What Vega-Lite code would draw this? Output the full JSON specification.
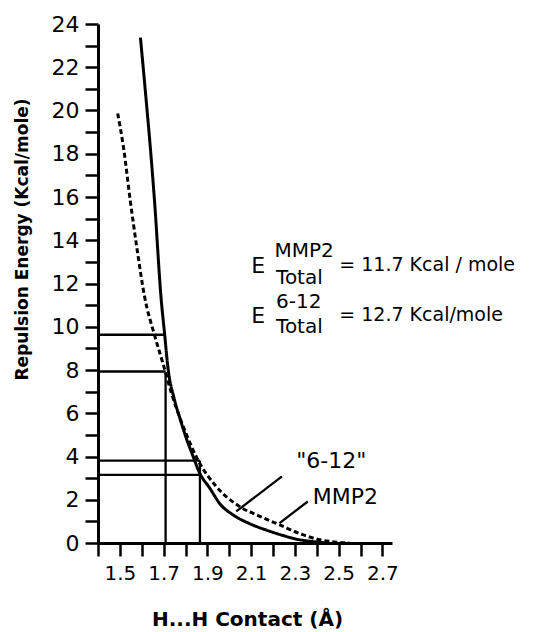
{
  "$schema": "https://vega.github.io/schema/vega-lite/v6.json",
  "width": 294,
  "height": 519,
  "autosize": {"type": "none"},
  "padding": {"left": 98, "top": 24, "right": 144, "bottom": 89},
  "background": "white",
  "config": {
    "view": {"stroke": null},
    "font": "DejaVu Sans",
    "axis": {
      "grid": false,
      "domainColor": "black",
      "domainWidth": 3,
      "tickColor": "black",
      "tickWidth": 2.5,
      "tickSize": 13,
      "labelColor": "black",
      "labelFont": "DejaVu Sans",
      "titleColor": "black",
      "titleFont": "DejaVu Sans",
      "titleFontWeight": "bold"
    }
  },
  "encoding": {
    "x": {
      "field": "x", "type": "quantitative",
      "scale": {"domain": [1.4, 2.744], "nice": false, "zero": false},
      "axis": {
        "values": [1.4, 1.5, 1.6, 1.7, 1.8, 1.9, 2.0, 2.1, 2.2, 2.3, 2.4, 2.5, 2.6, 2.7],
        "format": ".1f",
        "labelExpr": "indexof(['1.5','1.7','1.9','2.1','2.3','2.5','2.7'], datum.label) >= 0 ? datum.label : ''",
        "labelFontSize": 20,
        "labelPadding": 7,
        "labelFlush": false,
        "labelOverlap": false,
        "title": "H...H Contact (Å)",
        "titleFontSize": 20,
        "titleX": 149,
        "titleY": 76,
        "titleAlign": "center",
        "titleBaseline": "middle"
      }
    },
    "y": {
      "field": "y", "type": "quantitative",
      "scale": {"domain": [0, 24], "nice": false},
      "axis": {
        "values": [0, 1, 2, 3, 4, 5, 6, 7, 8, 9, 10, 11, 12, 13, 14, 15, 16, 17, 18, 19, 20, 21, 22, 23, 24],
        "labelExpr": "datum.value % 2 == 0 ? datum.label : ''",
        "labelFontSize": 22,
        "labelPadding": 6,
        "labelFlush": false,
        "labelOverlap": false,
        "title": "Repulsion Energy (Kcal/mole)",
        "titleFontSize": 17,
        "titleAngle": 270,
        "titleX": -76,
        "titleY": 215,
        "titleAlign": "center",
        "titleBaseline": "middle"
      }
    }
  },
  "layer": [
    {
      "data": {"values": [
        {"x": 1.594, "y": 23.37, "s": "solid"},
        {"x": 1.620, "y": 20.50, "s": "solid"},
        {"x": 1.640, "y": 18.19, "s": "solid"},
        {"x": 1.658, "y": 15.87, "s": "solid"},
        {"x": 1.689, "y": 11.25, "s": "solid"},
        {"x": 1.704, "y": 9.72, "s": "solid"},
        {"x": 1.719, "y": 8.17, "s": "solid"},
        {"x": 1.750, "y": 6.61, "s": "solid"},
        {"x": 1.774, "y": 5.78, "s": "solid"},
        {"x": 1.800, "y": 4.95, "s": "solid"},
        {"x": 1.833, "y": 4.05, "s": "solid"},
        {"x": 1.864, "y": 3.25, "s": "solid"},
        {"x": 1.910, "y": 2.55, "s": "solid"},
        {"x": 1.960, "y": 1.78, "s": "solid"},
        {"x": 2.016, "y": 1.31, "s": "solid"},
        {"x": 2.092, "y": 0.90, "s": "solid"},
        {"x": 2.169, "y": 0.60, "s": "solid"},
        {"x": 2.245, "y": 0.35, "s": "solid"},
        {"x": 2.306, "y": 0.18, "s": "solid"},
        {"x": 2.397, "y": 0.05, "s": "solid"},
        {"x": 2.458, "y": 0.0, "s": "solid"},
        {"x": 1.490, "y": 19.86, "s": "dashed"},
        {"x": 1.518, "y": 18.19, "s": "dashed"},
        {"x": 1.547, "y": 15.87, "s": "dashed"},
        {"x": 1.579, "y": 13.56, "s": "dashed"},
        {"x": 1.613, "y": 11.39, "s": "dashed"},
        {"x": 1.658, "y": 9.63, "s": "dashed"},
        {"x": 1.696, "y": 8.34, "s": "dashed"},
        {"x": 1.735, "y": 6.95, "s": "dashed"},
        {"x": 1.774, "y": 5.80, "s": "dashed"},
        {"x": 1.803, "y": 5.05, "s": "dashed"},
        {"x": 1.856, "y": 3.85, "s": "dashed"},
        {"x": 1.940, "y": 2.62, "s": "dashed"},
        {"x": 2.047, "y": 1.69, "s": "dashed"},
        {"x": 2.140, "y": 1.23, "s": "dashed"},
        {"x": 2.230, "y": 0.84, "s": "dashed"},
        {"x": 2.323, "y": 0.43, "s": "dashed"},
        {"x": 2.414, "y": 0.15, "s": "dashed"},
        {"x": 2.489, "y": 0.04, "s": "dashed"},
        {"x": 2.550, "y": 0.0, "s": "dashed"}
      ]},
      "mark": {"type": "line", "color": "black", "strokeWidth": 3, "interpolate": "monotone", "clip": false},
      "encoding": {
        "detail": {"field": "s"},
        "strokeDash": {
          "field": "s", "type": "nominal",
          "scale": {"domain": ["solid", "dashed"], "range": [[1, 0], [5, 3]]},
          "legend": null
        }
      }
    },
    {
      "data": {"values": [
        {"x": 1.4, "x2": 1.706, "y": 9.63, "y2": 9.63},
        {"x": 1.4, "x2": 1.709, "y": 7.93, "y2": 7.93},
        {"x": 1.4, "x2": 1.866, "y": 3.81, "y2": 3.81},
        {"x": 1.4, "x2": 1.866, "y": 3.15, "y2": 3.15},
        {"x": 1.709, "x2": 1.709, "y": 0, "y2": 7.9},
        {"x": 1.866, "x2": 1.866, "y": 0, "y2": 3.81},
        {"x": 2.032, "x2": 2.241, "y": 1.46, "y2": 3.08},
        {"x": 2.230, "x2": 2.359, "y": 0.92, "y2": 1.92}
      ]},
      "mark": {"type": "rule", "color": "black", "strokeWidth": 2.3},
      "encoding": {
        "x2": {"field": "x2"},
        "y2": {"field": "y2"}
      }
    },
    {
      "data": {"values": [
        {"x": 2.306, "y": 3.77, "t": "\"6-12\""},
        {"x": 2.382, "y": 2.15, "t": "MMP2"}
      ]},
      "mark": {"type": "text", "align": "left", "baseline": "middle", "fontSize": 22, "color": "black", "font": "DejaVu Sans"},
      "encoding": {
        "text": {"field": "t"}
      }
    },
    {
      "data": {"values": [
        {"x": 2.100, "y": 12.83, "t": "E"},
        {"x": 2.100, "y": 10.51, "t": "E"}
      ]},
      "mark": {"type": "text", "align": "left", "baseline": "middle", "fontSize": 22, "color": "black", "font": "DejaVu Sans"},
      "encoding": {
        "text": {"field": "t"}
      }
    },
    {
      "data": {"values": [
        {"x": 2.207, "y": 13.5, "t": "MMP2"},
        {"x": 2.214, "y": 12.25, "t": "Total"},
        {"x": 2.214, "y": 11.14, "t": "6-12"},
        {"x": 2.214, "y": 9.98, "t": "Total"}
      ]},
      "mark": {"type": "text", "align": "left", "baseline": "middle", "fontSize": 20, "color": "black", "font": "DejaVu Sans"},
      "encoding": {
        "text": {"field": "t"}
      }
    },
    {
      "data": {"values": [
        {"x": 2.503, "y": 12.87, "t": "= 11.7 Kcal / mole"},
        {"x": 2.503, "y": 10.56, "t": "= 12.7 Kcal/mole"}
      ]},
      "mark": {"type": "text", "align": "left", "baseline": "middle", "fontSize": 19, "color": "black", "font": "DejaVu Sans"},
      "encoding": {
        "text": {"field": "t"}
      }
    }
  ]
}
